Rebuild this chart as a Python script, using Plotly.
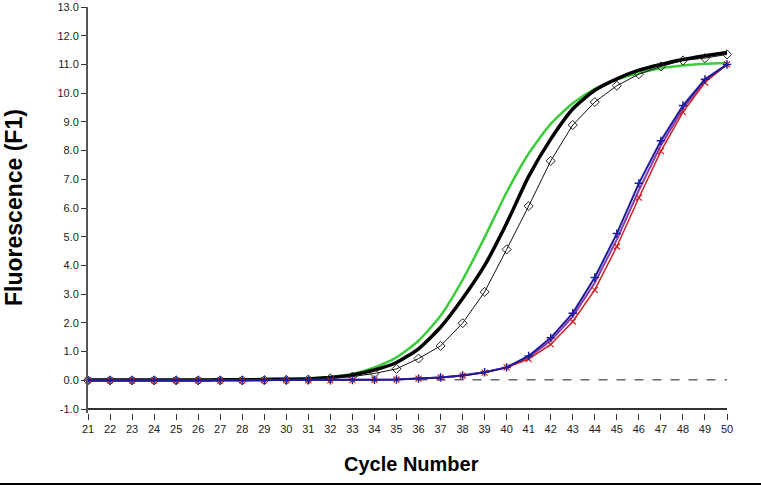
import plotly.graph_objects as go

cycles = list(range(21, 51))

green_vals = [0.02, 0.02, 0.02, 0.02, 0.02, 0.02, 0.03, 0.03, 0.04, 0.05,
              0.07, 0.12, 0.22, 0.45, 0.80, 1.38, 2.25, 3.50, 4.98, 6.55,
              7.90, 8.93, 9.65, 10.15, 10.47, 10.70, 10.87, 10.96, 11.02, 11.05]

black_vals = [0.01, 0.01, 0.01, 0.01, 0.01, 0.01, 0.02, 0.02, 0.03, 0.04,
              0.05, 0.10, 0.19, 0.36, 0.62, 1.10, 1.85, 2.85, 4.00, 5.47,
              7.10, 8.40, 9.45, 10.10, 10.50, 10.80, 11.00, 11.17, 11.30, 11.42]

diamond_vals = [0.00, 0.00, 0.00, 0.00, 0.00, 0.00, 0.00, 0.00, 0.01, 0.02,
                0.03, 0.07, 0.13, 0.24, 0.40, 0.76, 1.20, 1.99, 3.08, 4.56,
                6.07, 7.64, 8.89, 9.69, 10.26, 10.66, 10.93, 11.14, 11.22, 11.35]

blue_vals = [0.00, 0.00, 0.00, 0.00, 0.00, 0.00, 0.00, 0.00, 0.00, 0.00,
             0.00, 0.00, 0.01, 0.02, 0.03, 0.06, 0.10, 0.17, 0.28, 0.45,
             0.85, 1.48, 2.34, 3.58, 5.11, 6.86, 8.34, 9.57, 10.48, 11.00]

red_vals = [0.00, 0.00, 0.00, 0.00, 0.00, 0.00, 0.00, 0.00, 0.00, 0.00,
            0.00, 0.00, 0.01, 0.02, 0.03, 0.06, 0.10, 0.16, 0.27, 0.45,
            0.74, 1.25, 2.05, 3.15, 4.66, 6.36, 7.98, 9.34, 10.37, 11.00]

purple_vals = [0.00, 0.00, 0.00, 0.00, 0.00, 0.00, 0.00, 0.00, 0.00, 0.00,
               0.00, 0.00, 0.01, 0.02, 0.03, 0.06, 0.10, 0.17, 0.28, 0.45,
               0.80, 1.38, 2.22, 3.40, 4.90, 6.62, 8.18, 9.46, 10.44, 11.00]

threshold_x = [36, 50]
threshold_y = [0.02, 0.02]

y_ticks = [v for v in range(-1, 14)]
y_tick_labels = ["%.1f" % v for v in y_ticks]
x_ticks = cycles
x_tick_labels = [str(c) for c in cycles]

fig = go.Figure()

fig.add_trace(go.Scatter(x=threshold_x, y=threshold_y, mode="lines",
                         line=dict(color="#666666", width=1.5, dash="dash"),
                         cliponaxis=False))
fig.add_trace(go.Scatter(x=cycles, y=green_vals, mode="lines",
                         line=dict(color="#3ccc3c", width=2.5, shape="spline", smoothing=0.6),
                         cliponaxis=False))
fig.add_trace(go.Scatter(x=cycles, y=black_vals, mode="lines",
                         line=dict(color="#000000", width=3.5, shape="spline", smoothing=0.6),
                         cliponaxis=False))
fig.add_trace(go.Scatter(x=cycles, y=diamond_vals, mode="lines+markers",
                         line=dict(color="#111111", width=1),
                         marker=dict(symbol="diamond-open", size=7,
                                     color="#222222", line=dict(width=1)),
                         cliponaxis=False))
fig.add_trace(go.Scatter(x=cycles, y=purple_vals, mode="lines",
                         line=dict(color="#8a3aa8", width=2), cliponaxis=False))
fig.add_trace(go.Scatter(x=cycles, y=red_vals, mode="lines+markers",
                         line=dict(color="#cc2020", width=1.5),
                         marker=dict(symbol="x-thin-open", size=6,
                                     color="#cc2020", line=dict(width=1.2, color="#cc2020")),
                         cliponaxis=False))
fig.add_trace(go.Scatter(x=cycles, y=blue_vals, mode="lines+markers",
                         line=dict(color="#1c1c9c", width=2),
                         marker=dict(symbol="cross-thin-open", size=6,
                                     color="#1c1c9c", line=dict(width=1.5, color="#1c1c9c")),
                         cliponaxis=False))

tick_font = dict(family="Liberation Sans, Arial, sans-serif", size=11, color="#222222")

fig.update_layout(
    width=761, height=488,
    margin=dict(l=88, r=34, t=1, b=75, pad=0),
    paper_bgcolor="white", plot_bgcolor="white",
    showlegend=False,
    xaxis=dict(range=[21, 50], tickvals=x_ticks, ticktext=x_tick_labels,
               ticks="outside", ticklen=6, tickwidth=1, tickcolor="#333333",
               showgrid=False, zeroline=False, showline=False,
               tickfont=tick_font, ticklabeloverflow="allow"),
    yaxis=dict(range=[-1.137, 13], tickvals=y_ticks, ticktext=y_tick_labels,
               ticks="outside", ticklen=5, tickwidth=1, tickcolor="#333333",
               showgrid=False, zeroline=False, showline=True,
               linecolor="#555555", linewidth=2,
               tickfont=tick_font, ticklabeloverflow="allow"),
    shapes=[
        dict(type="line", xref="x", yref="y", x0=21, x1=50, y0=-1, y1=-1,
             line=dict(color="#333333", width=2)),
        dict(type="line", xref="paper", yref="paper", x0=-0.14, x1=1.06,
             y0=-0.175, y1=-0.175, line=dict(color="#000000", width=2)),
    ],
    annotations=[
        dict(text="<b>Fluorescence (F1)</b>", textangle=-90, xref="paper", yref="paper",
             x=(14 - 88) / 639, y=0.505, xanchor="center", yanchor="middle", showarrow=False,
             font=dict(family="Liberation Sans, Arial, sans-serif", size=23, color="#000000")),
        dict(text="<b>Cycle Number</b>", xref="paper", yref="paper",
             x=(411 - 88) / 639, y=(413 - 465) / 412, xanchor="center", yanchor="middle",
             showarrow=False,
             font=dict(family="Liberation Sans, Arial, sans-serif", size=20, color="#000000")),
    ],
)

fig.write_html("out.html", config={"displayModeBar": False},
               post_script="document.body.style.margin='0';document.body.style.overflow='hidden';")
